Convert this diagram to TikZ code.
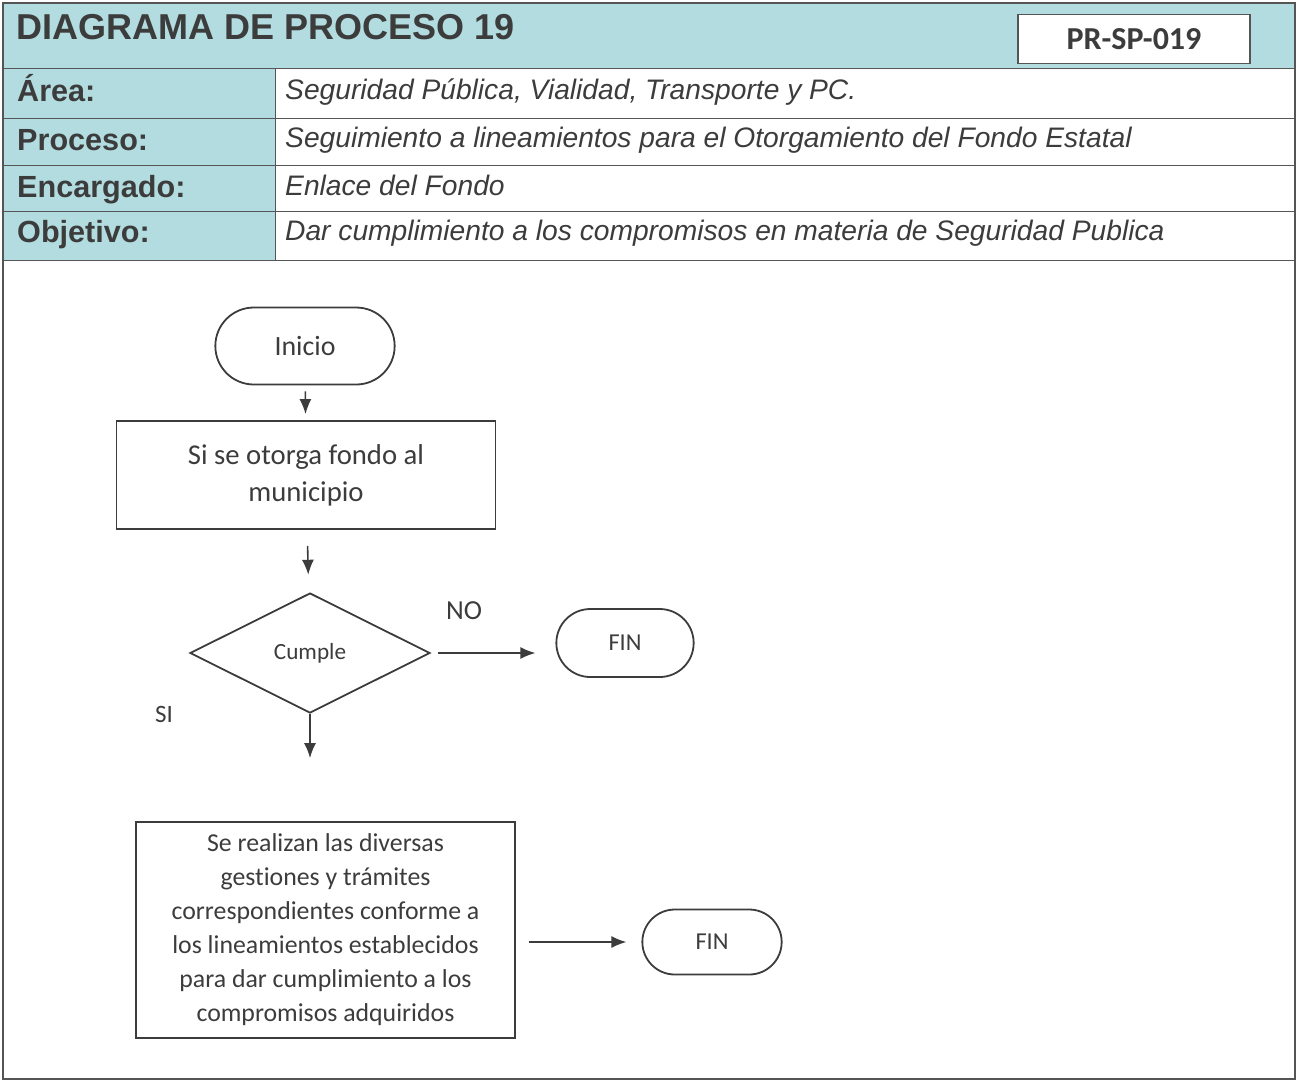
\documentclass[tikz,border=0pt]{standalone}
\usepackage{fontspec}
\setmainfont{Carlito}[Ligatures=NoCommon]
\newfontfamily\arialfont{Liberation Sans}
\usetikzlibrary{shapes.geometric,shapes.misc,arrows.meta}

\definecolor{cabecera}{HTML}{B2DCE0}
\definecolor{tinta}{HTML}{3C3C3C}
\definecolor{borde}{HTML}{555555}

\begin{document}
\begin{tikzpicture}
		[
		x=1pt, y=-1pt, >={Latex[length=15pt,width=12pt]}, text=tinta,
		%Voreinstellungen
		terminal/.style={draw=tinta, line width=1.8pt, rounded rectangle, font=\fontsize{27.9}{33}\selectfont},
		caja/.style={draw=tinta, line width=1.8pt, rectangle, align=center},
		rombo/.style={draw=tinta, line width=1.8pt, diamond, aspect=2, inner sep=0pt, minimum width=240pt, minimum height=120pt, font=\fontsize{23.2}{28}\selectfont},
		flecha/.style={->, draw=tinta, line width=1.6pt},
		etiqueta/.style={font=\arialfont\bfseries\fontsize{30.6}{36}\selectfont, anchor=base west, inner sep=0pt},
		valor/.style={font=\arialfont\itshape\fontsize{28.2}{34}\selectfont, anchor=base west, inner sep=0pt}
		]
		
		\useasboundingbox (0,0) rectangle (1297,1082);
		
		%Cabecera
		\fill[cabecera] (3,3) rectangle (1295,68);
		\fill[cabecera] (3,68) rectangle (275,260);
		\draw[borde, line width=1pt] (3,68) -- (1295,68);
		\foreach \y in {118,165,211,260}
		\draw[borde, line width=1pt] (3,\y) -- (1295,\y);
		\draw[borde, line width=1pt] (275,68) -- (275,260);
		
		%Marco
		\draw[borde, line width=2pt] (3,3) rectangle (1295,1079);
		
		%Titulo y codigo
		\node[font=\arialfont\bfseries\fontsize{36}{40}\selectfont, anchor=west] (titulo) at (13,27) {DIAGRAMA DE PROCESO 19};
		\node[draw=borde, fill=white, line width=1.4pt, minimum width=232pt, minimum height=49pt, font=\bfseries\fontsize{32}{36}\selectfont] (codigo) at (1134,39) {PR-SP-019};
		
		%Filas
		\node[etiqueta] (area) at (17,101) {Área:};
		\node[etiqueta] (proceso) at (17,150) {Proceso:};
		\node[etiqueta] (encargado) at (17,197) {Encargado:};
		\node[etiqueta] (objetivo) at (17,242) {Objetivo:};
		\node[valor] (areaTxt) at (285,99) {Seguridad Pública, Vialidad, Transporte y PC.};
		\node[valor] (procesoTxt) at (285,147) {Seguimiento a lineamientos para el Otorgamiento del Fondo Estatal};
		\node[valor] (encargadoTxt) at (285,195) {Enlace del Fondo};
		\node[valor] (objetivoTxt) at (285,240) {Dar cumplimiento a los compromisos en materia de Seguridad Publica};
		
		%Diagrama
		\node[terminal, minimum width=186pt, minimum height=77pt] (inicio) at (305,346) {Inicio};
		\node[caja, minimum width=379pt, minimum height=108pt, font=\fontsize{28.7}{37}\selectfont] (otorga) at (306,475) {Si se otorga fondo al\\municipio};
		\node[rombo] (cumple) at (310,653) {Cumple};
		\node[terminal, minimum width=144pt, minimum height=68pt, font=\fontsize{24.3}{29}\selectfont] (fin1) at (625,643) {FIN};
		\node[caja, minimum width=379pt, minimum height=216pt, font=\fontsize{25.8}{34}\selectfont] (gestiones) at (325.5,930) {Se realizan las diversas\\gestiones y trámites\\correspondientes conforme a\\los lineamientos establecidos\\para dar cumplimiento a los\\compromisos adquiridos};
		\node[terminal, minimum width=146pt, minimum height=65pt, font=\fontsize{24.3}{29}\selectfont] (fin2) at (712,942) {FIN};
		
		\node[font=\fontsize{27.5}{32}\selectfont] (no) at (464,611) {NO};
		\node[font=\fontsize{25}{30}\selectfont] (si) at (164,714) {SI};
		
		%Pfeile
		\draw[flecha, shorten <=6pt, shorten >=6pt] (inicio) -- (otorga);
		\draw[flecha, shorten <=16pt, shorten >=18pt] (otorga) -- (cumple);
		\draw[flecha, shorten <=7pt, shorten >=20pt] (cumple.east) -- (cumple.east -| fin1.west);
		\draw[flecha, shorten >=63pt] (cumple.south) -- (cumple.south |- gestiones.north);
		\draw[flecha, shorten <=13pt, shorten >=15pt] (gestiones.east |- fin2.west) -- (fin2.west);
		
\end{tikzpicture}
\end{document}
